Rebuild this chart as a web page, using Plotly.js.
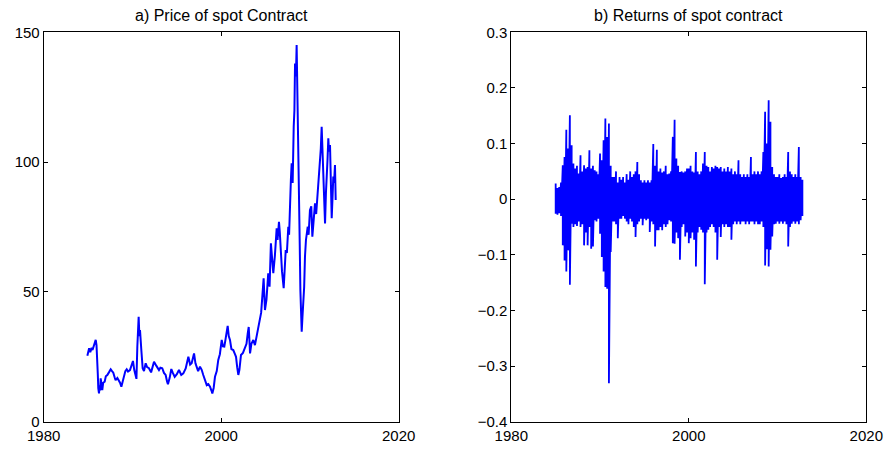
<!DOCTYPE html>
<html>
<head>
<meta charset="utf-8">
<script src="https://cdn.plot.ly/plotly-3.0.1.min.js"></script>
<style>html,body{margin:0;padding:0;background:#fff;}#chart{width:888px;height:450px;}</style>
</head>
<body>
<div id="chart"></div>
<script>
// ---- Panel a) price of spot contract (read from picture) ----
const priceYears = [
  1984.92,1985.05,1985.12,1985.25,1985.4,1985.5,1985.65,1985.8,1985.86,1985.95,
  1986.04,1986.1,1986.15,1986.23,1986.3,1986.36,1986.42,1986.5,1986.6,1986.7,
  1986.87,1987.0,1987.17,1987.35,1987.55,1987.7,1987.84,1988.0,1988.1,1988.3,
  1988.48,1988.6,1988.75,1988.9,1989.05,1989.2,1989.35,1989.5,1989.72,1989.9,
  1990.06,1990.2,1990.37,1990.45,1990.55,1990.62,1990.7,1990.78,1990.85,1991.0,
  1991.08,1991.15,1991.3,1991.49,1991.65,1991.86,1992.1,1992.25,1992.43,1992.7,
  1992.99,1993.15,1993.36,1993.55,1993.74,1993.9,1994.0,1994.2,1994.38,1994.55,
  1994.76,1995.0,1995.24,1995.5,1995.73,1996.0,1996.15,1996.3,1996.5,1996.67,
  1996.85,1996.94,1997.1,1997.24,1997.4,1997.61,1997.8,1997.98,1998.15,1998.37,
  1998.55,1998.74,1998.9,1999.0,1999.15,1999.3,1999.5,1999.67,1999.85,2000.06,
  2000.2,2000.35,2000.5,2000.73,2000.85,2000.99,2001.15,2001.36,2001.55,2001.67,
  2001.8,2001.93,2002.05,2002.23,2002.45,2002.68,2002.85,2002.99,2003.1,2003.2,
  2003.25,2003.4,2003.62,2003.8,2004.0,2004.15,2004.26,2004.37,2004.5,2004.63,
  2004.78,2004.93,2005.1,2005.3,2005.45,2005.6,2005.75,2005.87,2006.05,2006.25,
  2006.35,2006.51,2006.6,2006.74,2006.85,2007.04,2007.15,2007.27,2007.4,2007.56,
  2007.65,2007.75,2007.85,2007.94,2008.05,2008.17,2008.25,2008.32,2008.42,2008.5,
  2008.56,2008.62,2008.7,2008.77,2008.85,2008.92,2008.98,2009.07,2009.15,2009.25,
  2009.35,2009.44,2009.55,2009.75,2009.85,2010.0,2010.15,2010.27,2010.4,2010.57,
  2010.7,2010.87,2011.0,2011.13,2011.22,2011.32,2011.42,2011.55,2011.63,2011.7,
  2011.8,2011.89,2011.98,2012.07,2012.15,2012.26,2012.35,2012.45,2012.55,2012.63,
  2012.72,2012.82,2012.9
];
const priceValues = [
  25.4,27.5,28.3,26.8,28.5,27.6,29.0,30.5,31.5,29.5,
  25.0,18,12.9,10.9,14,12,16.7,14,12.2,15,
  15.4,17.5,18.0,19,20.2,19.5,18.9,17,16.0,16.8,
  16.0,15,13.5,15.5,18.0,19.5,20.2,19.3,19.9,21.5,
  23.4,20,18.0,16.5,28.9,35,40.4,33,35.3,27.6,
  23,20.6,19.5,22.5,21,20.6,19,21,23.1,21.5,
  19.9,20.8,20.6,18.8,18.0,15.5,14.4,17,20.3,18.8,
  17.3,18.3,19.9,18,18.6,20.5,23,25.0,22,22.5,
  25,26.3,22.5,20.6,19.5,21.2,20,18.0,16,14.1,
  14.5,13.5,12,10.9,13,17.3,19.5,23.8,26,31.5,
  29,28.9,32,36.9,33,31.5,28,27.6,26,25.0,
  21,18.0,20,25.7,26.5,28.9,30,34.0,36.5,30,
  26.3,30,31.5,29.5,33.4,36,37.9,40.4,42,48,
  55.2,43,47,57.2,52,68.7,62,57.2,64,74.5,
  70,77.0,73,63.6,58,51.4,60,66.1,65,75.1,
  72,89.3,93,99.5,92,113.6,120,138,133,145.1,
  128,121.3,110,86.7,68,50.7,40,34.7,40,45.6,
  52,63.6,70,75.1,72,81.5,83,71.3,77,84.1,
  80,88,91,99.5,105,113.6,104,97,87,76.4,
  88,93.1,101,109.2,104,106.6,96,78.4,87,94.4,
  92,98.9,85.4
];

// ---- Panel b) returns: highest and lowest return in each period (read from picture) ----
const retYears = [
  1985.0,1985.2,1985.4,1985.6,1985.8,1986.0,1986.2,1986.4,1986.6,1986.8,
  1987.0,1987.2,1987.4,1987.6,1987.8,1988.0,1988.2,1988.4,1988.6,1988.8,
  1989.0,1989.2,1989.4,1989.6,1989.8,1990.0,1990.2,1990.4,1990.6,1990.8,
  1991.0,1991.2,1991.4,1991.6,1991.8,1992.0,1992.2,1992.4,1992.6,1992.8,
  1993.0,1993.2,1993.4,1993.6,1993.8,1994.0,1994.2,1994.4,1994.6,1994.8,
  1995.0,1995.2,1995.4,1995.6,1995.8,1996.0,1996.2,1996.4,1996.6,1996.8,
  1997.0,1997.2,1997.4,1997.6,1997.8,1998.0,1998.2,1998.4,1998.6,1998.8,
  1999.0,1999.2,1999.4,1999.6,1999.8,2000.0,2000.2,2000.4,2000.6,2000.8,
  2001.0,2001.2,2001.4,2001.6,2001.8,2002.0,2002.2,2002.4,2002.6,2002.8,
  2003.0,2003.2,2003.4,2003.6,2003.8,2004.0,2004.2,2004.4,2004.6,2004.8,
  2005.0,2005.2,2005.4,2005.6,2005.8,2006.0,2006.2,2006.4,2006.6,2006.8,
  2007.0,2007.2,2007.4,2007.6,2007.8,2008.0,2008.2,2008.4,2008.6,2008.8,
  2009.0,2009.2,2009.4,2009.6,2009.8,2010.0,2010.2,2010.4,2010.6,2010.8,
  2011.0,2011.2,2011.4,2011.6,2011.8,2012.0,2012.2,2012.4,2012.6,2012.8
];
const retHigh = [
  0.028,0.020,0.022,0.030,0.061,0.076,0.125,0.091,0.151,0.097,
  0.064,0.055,0.060,0.046,0.079,0.050,0.061,0.055,0.058,0.088,
  0.055,0.060,0.052,0.050,0.045,0.082,0.070,0.106,0.145,0.112,
  0.136,0.060,0.040,0.040,0.050,0.030,0.040,0.035,0.040,0.030,
  0.045,0.035,0.050,0.040,0.045,0.050,0.067,0.045,0.034,0.030,
  0.034,0.030,0.034,0.030,0.034,0.099,0.060,0.089,0.050,0.055,
  0.048,0.050,0.060,0.045,0.046,0.050,0.112,0.143,0.073,0.060,
  0.049,0.050,0.048,0.050,0.055,0.055,0.060,0.050,0.048,0.085,
  0.050,0.045,0.050,0.064,0.085,0.060,0.058,0.050,0.058,0.055,
  0.060,0.058,0.055,0.058,0.050,0.055,0.050,0.058,0.050,0.055,
  0.045,0.050,0.045,0.070,0.045,0.040,0.045,0.040,0.045,0.040,
  0.076,0.045,0.050,0.045,0.050,0.045,0.050,0.085,0.157,0.100,
  0.178,0.139,0.058,0.045,0.040,0.040,0.045,0.038,0.040,0.045,
  0.040,0.085,0.050,0.045,0.040,0.045,0.040,0.094,0.040,0.035
];
const retLow = [
  -0.026,-0.028,-0.025,-0.030,-0.083,-0.110,-0.130,-0.092,-0.154,-0.044,
  -0.050,-0.045,-0.048,-0.040,-0.050,-0.045,-0.083,-0.060,-0.083,-0.050,
  -0.089,-0.085,-0.038,-0.040,-0.035,-0.062,-0.104,-0.130,-0.158,-0.161,
  -0.331,-0.095,-0.040,-0.040,-0.045,-0.070,-0.035,-0.035,-0.030,-0.035,
  -0.040,-0.045,-0.035,-0.040,-0.050,-0.068,-0.045,-0.040,-0.035,-0.047,
  -0.035,-0.038,-0.035,-0.059,-0.040,-0.045,-0.085,-0.056,-0.056,-0.050,
  -0.056,-0.045,-0.050,-0.045,-0.038,-0.040,-0.079,-0.080,-0.060,-0.070,
  -0.109,-0.050,-0.045,-0.067,-0.060,-0.079,-0.070,-0.060,-0.073,-0.121,
  -0.060,-0.050,-0.055,-0.060,-0.153,-0.060,-0.055,-0.050,-0.045,-0.050,
  -0.060,-0.109,-0.050,-0.068,-0.045,-0.050,-0.045,-0.050,-0.050,-0.073,
  -0.045,-0.040,-0.045,-0.040,-0.045,-0.040,-0.040,-0.045,-0.040,-0.045,
  -0.040,-0.040,-0.045,-0.040,-0.045,-0.045,-0.040,-0.050,-0.119,-0.090,
  -0.121,-0.091,-0.067,-0.045,-0.044,-0.040,-0.044,-0.040,-0.044,-0.040,
  -0.045,-0.085,-0.050,-0.044,-0.040,-0.044,-0.040,-0.045,-0.038,-0.030
];

const xTicks = [1980, 2000, 2020];
const priceTicks = [0, 50, 100, 150];
const retTicks = [-0.4, -0.3, -0.2, -0.1, 0, 0.1, 0.2, 0.3];
const retTickText = ['\u22120.4','\u22120.3','\u22120.2','\u22120.1','0','0.1','0.2','0.3'];
const titles = ['a) Price of spot Contract', 'b) Returns of spot contract'];

// interleave high / low of each period into one vertical zigzag line
const retX = [], retY = [];
retYears.forEach((d, i) => { retX.push(d, d); retY.push(retHigh[i], retLow[i]); });

const blue = '#0000ff';
const traces = [
  {x: priceYears, y: priceValues, type: 'scatter', mode: 'lines', xaxis: 'x', yaxis: 'y',
   line: {color: blue, width: 2}, hoverinfo: 'skip'},
  {x: retX, y: retY, type: 'scatter', mode: 'lines', xaxis: 'x2', yaxis: 'y2',
   line: {color: blue, width: 1.8}, hoverinfo: 'skip'}
];

const axBase = {
  ticks: 'inside', ticklen: 4, tickwidth: 1, tickcolor: '#000',
  showline: true, linecolor: '#000', linewidth: 1, mirror: 'ticks',
  showgrid: false, zeroline: false, fixedrange: true,
  tickfont: {size: 15, color: '#000'}
};
const yDom = [0.0629, 0.9282];
const xDom1 = [0.04921, 0.44899], xDom2 = [0.57579, 0.97556];

const layout = {
  width: 888, height: 450,
  margin: {l: 0, r: 0, t: 0, b: 0},
  paper_bgcolor: '#fff', plot_bgcolor: '#fff', showlegend: false,
  font: {family: 'Liberation Sans, Arial, Helvetica, sans-serif', size: 15, color: '#000'},
  xaxis: Object.assign({}, axBase, {domain: xDom1, anchor: 'y', range: [1980, 2020],
    tickmode: 'array', tickvals: xTicks}),
  yaxis: Object.assign({}, axBase, {domain: yDom, anchor: 'x', range: [0, 150],
    tickmode: 'array', tickvals: priceTicks}),
  xaxis2: Object.assign({}, axBase, {domain: xDom2, anchor: 'y2', range: [1980, 2020],
    tickmode: 'array', tickvals: xTicks}),
  yaxis2: Object.assign({}, axBase, {domain: yDom, anchor: 'x2', range: [-0.4, 0.3],
    tickmode: 'array', tickvals: retTicks, ticktext: retTickText}),
  annotations: [
    {text: titles[0], xref: 'paper', yref: 'paper', x: (xDom1[0] + xDom1[1]) / 2, y: yDom[1],
     xanchor: 'center', yanchor: 'bottom', yshift: 6, showarrow: false, font: {size: 16, color: '#000'}},
    {text: titles[1], xref: 'paper', yref: 'paper', x: (xDom2[0] + xDom2[1]) / 2, y: yDom[1],
     xanchor: 'center', yanchor: 'bottom', yshift: 6, showarrow: false, font: {size: 16, color: '#000'}}
  ]
};

Plotly.newPlot('chart', traces, layout, {staticPlot: true, displayModeBar: false});
</script>
</body>
</html>
